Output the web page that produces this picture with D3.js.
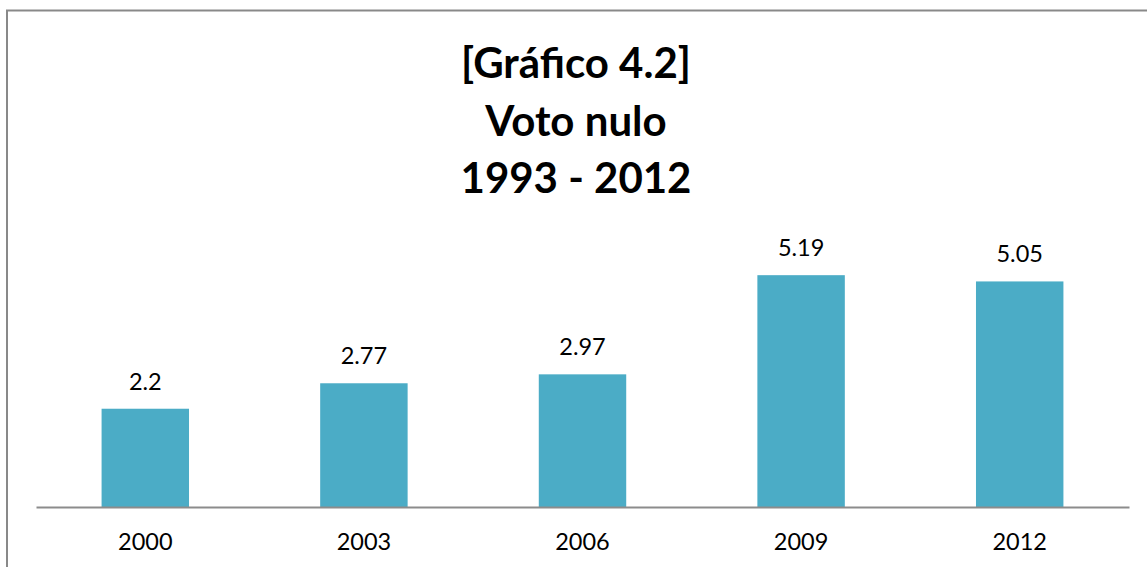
<!DOCTYPE html>
<html>
<head>
<meta charset="utf-8">
<script src="https://cdn.jsdelivr.net/npm/d3@7"></script>
<style>
  body { margin: 0; background: #fff; }
  svg { display: block; font-family: Lato, "Open Sans", sans-serif; }
</style>
</head>
<body>
<div class="chart"></div>
<script>
const width = 1147;
const height = 567;

// data
const years = ['2000', '2003', '2006', '2009', '2012'];
const values = [2.2, 2.77, 2.97, 5.19, 5.05];
const titleLines = ['[Gráfico 4.2]', 'Voto nulo', '1993 - 2012'];

const svg = d3.select('.chart').append('svg')
    .attr('width', width)
    .attr('height', height);

// chart area border (runs off the right and bottom)
svg.append('rect')
    .attr('x', 7)
    .attr('y', 10.5)
    .attr('width', 1200)
    .attr('height', 700)
    .attr('fill', '#fff')
    .attr('stroke', '#898989')
    .attr('stroke-width', 2);

/*      title       */
svg.append('g').selectAll('text')
    .data(titleLines)
    .enter()
    .append('text')
    .attr('x', 576)
    .attr('y', (d, i) => 78 + i * 57.5)
    .attr('text-anchor', 'middle')
    .attr('font-size', 42)
    .attr('font-weight', 'bold')
    .attr('fill', '#000')
    .text((d) => d);

/*      scales       */
const xScale = d3.scaleBand()
    .range([36, 1129])
    .domain(years)
    .paddingInner(0.6)
    .paddingOuter(0.3);

const yScale = d3.scaleLinear()
    .range([507, 239])
    .domain([0, 6]);

/*      bars       */
const bars = svg.append('g').selectAll()
    .data(years)
    .enter()
    .append('g');
bars.append('rect')
    .attr('x', (d) => xScale(d))
    .attr('y', (d, i) => yScale(values[i]))
    .attr('width', xScale.bandwidth())
    .attr('height', (d, i) => yScale(0) - yScale(values[i]))
    .attr('fill', '#4BACC6');
bars.append('text')
    .attr('x', (d) => xScale(d) + xScale.bandwidth() / 2)
    .attr('y', (d, i) => yScale(values[i]) - 19)
    .attr('text-anchor', 'middle')
    .attr('font-size', 23.5)
    .attr('fill', '#000')
    .text((d, i) => values[i]);

/*      x-axis       */
const xAxis = svg.append('g')
    .attr('transform', 'translate(0,507)')
    .call(d3.axisBottom(xScale).tickSize(0).tickPadding(0).tickSizeOuter(0));
xAxis.select('.domain')
    .attr('stroke', '#8c8c8c')
    .attr('stroke-width', 2);
xAxis.selectAll('text')
    .attr('font-family', 'Lato, sans-serif')
    .attr('font-size', 23.5)
    .attr('fill', '#000')
    .attr('dy', null)
    .attr('y', 43);
</script>
</body>
</html>
